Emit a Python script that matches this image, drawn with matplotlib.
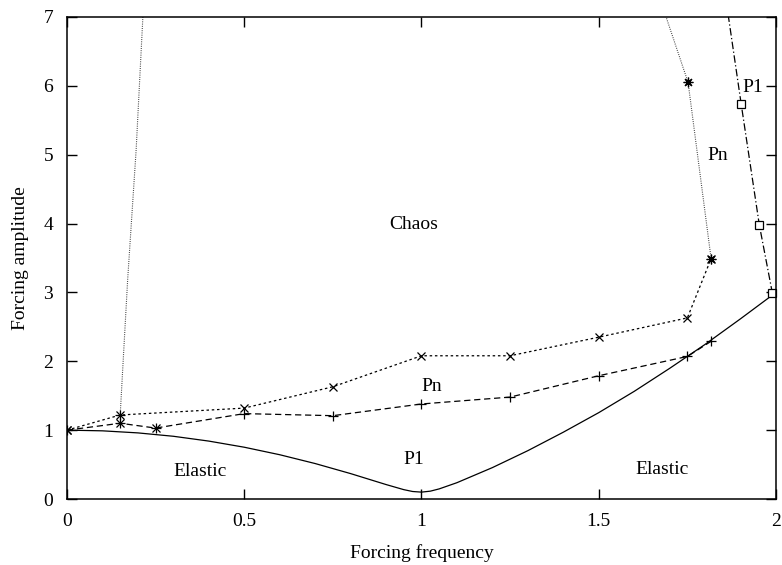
"""
Forcing amplitude vs forcing frequency: response regions (Elastic / P1 / Pn / Chaos)
"""

import matplotlib
matplotlib.use("Agg")
import matplotlib.pyplot as plt

plt.rcParams["font.family"] = ["Liberation Serif", "DejaVu Serif"]
plt.rcParams["font.size"] = 14

# Elastic / P1 boundary (solid)
elastic_x = [0, 0.1, 0.2, 0.3, 0.4, 0.5, 0.6, 0.7, 0.8, 0.9, 0.95, 0.975, 1.0,
             1.025, 1.05, 1.1, 1.2, 1.3, 1.4, 1.5, 1.6, 1.7, 1.8, 1.9, 2.0]
elastic_y = [1.0, 0.990, 0.960, 0.911, 0.841, 0.752, 0.643, 0.515, 0.369, 0.210,
             0.136, 0.109, 0.100, 0.114, 0.147, 0.237, 0.456, 0.702, 0.970, 1.254,
             1.563, 1.897, 2.245, 2.617, 3.0]

# P1 / Pn boundary (dashed, +)
p1pn_x = [0, 0.15, 0.25, 0.5, 0.75, 1.0, 1.25, 1.5, 1.75, 1.817]
p1pn_y = [1.0, 1.10, 1.03, 1.24, 1.21, 1.38, 1.48, 1.79, 2.07, 2.29]

# extra points overlapping the P1/Pn boundary near the origin (x)
overlap_x = [0, 0.15, 0.25]
overlap_y = [1.0, 1.10, 1.03]

# Pn / Chaos boundary (dotted, x)
pnch_x = [0, 0.15, 0.5, 0.75, 1.0, 1.25, 1.5, 1.75, 1.817]
pnch_y = [1.0, 1.22, 1.32, 1.63, 2.08, 2.08, 2.35, 2.63, 3.49]

# chaos region edges (fine dotted, *)
chaos_left_x = [0.15, 0.171, 0.195, 0.214]
chaos_left_y = [1.22, 3.18, 5.07, 7.0]
chaos_right_x = [1.817, 1.752, 1.69]
chaos_right_y = [3.49, 6.05, 7.0]

# P1 region at high frequency (dash-dot, squares)
p1hi_x = [1.99, 1.953, 1.902, 1.866]
p1hi_y = [2.985, 3.98, 5.73, 7.0]

labels = ["Chaos", "Pn", "P1", "Elastic", "Elastic", "Pn", "P1"]
label_x = [0.977, 1.03, 0.978, 0.376, 1.68, 1.835, 1.935]
label_y = [3.98, 1.63, 0.57, 0.40, 0.43, 4.99, 5.98]

fig = plt.figure(figsize=(7.82, 5.65), dpi=100)
ax = fig.add_axes([0.0857, 0.1168, 0.9066, 0.8532])

lw = 0.9
ax.plot(elastic_x, elastic_y, color="black", lw=lw)
ax.plot(p1pn_x, p1pn_y, color="black", lw=lw, dashes=(5, 3),
        marker="+", ms=6.5, mew=0.9)
ax.plot(overlap_x, overlap_y, ls="none", color="black",
        marker="x", ms=6, mew=0.9)
ax.plot(pnch_x, pnch_y, color="black", lw=lw, dashes=(2, 2.2),
        marker="x", ms=6, mew=0.9)
ax.plot(chaos_left_x, chaos_left_y, color="#333333", lw=0.8, dashes=(0.8, 1.2),
        marker="+", ms=6.5, mew=0.9, mec="black", markevery=[0])
ax.plot(chaos_right_x, chaos_right_y, color="#333333", lw=0.8, dashes=(0.8, 1.2),
        marker=(8, 2, 0), ms=7, mew=0.9, mec="black", markevery=[0, 1])
ax.plot(p1hi_x, p1hi_y, color="black", lw=lw, dashes=(6, 2, 1, 2),
        marker="s", ms=5.5, mfc="white", mew=0.9, markevery=[0, 1, 2],
        clip_on=False)

for t, x, y in zip(labels, label_x, label_y):
    ax.text(x, y, t, ha="center", va="center", fontsize=14)

ax.set_xlim(0, 2)
ax.set_ylim(0, 7)
ax.set_xticks([0, 0.5, 1, 1.5, 2])
ax.set_xticklabels(["0", "0.5", "1", "1.5", "2"])
ax.set_yticks(range(8))
ax.tick_params(direction="in", length=7, width=1, top=True, right=True,
               labelsize=14, pad=10)
for s in ax.spines.values():
    s.set_linewidth(1.1)

ax.set_xlabel("Forcing frequency", fontsize=14, labelpad=10)
ax.set_ylabel("Forcing amplitude", fontsize=14, labelpad=10)

plt.savefig("out.png", dpi=100)
